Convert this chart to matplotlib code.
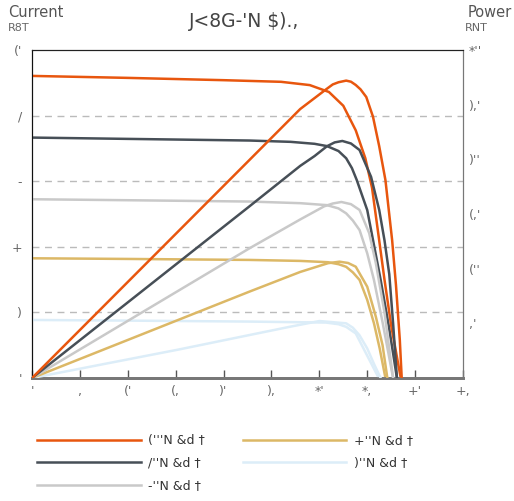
import matplotlib
matplotlib.use("Agg")
import matplotlib.pyplot as plt

# labels exactly as they appear in the reference
title_text = "J<8G-'N $).,"
x_ticks = [0, 5, 10, 15, 20, 25, 30, 35, 40, 45]
x_tick_labels = ["'", ",", "('", "(,", ")'", "),", "*'", "*,", "+'", "+,"]
left_ticks = [0, 2, 4, 6, 8, 10]
left_tick_labels = ["'", ")", "+", "-", "/", "('"]
right_ticks = [0, 50, 100, 150, 200, 250, 300]
right_tick_labels = ["", ",'", "(''", "(,'", ")''", "),'", "*''"]
series_labels = ["('''N &d †", "/''N &d †", "-''N &d †", "+''N &d †", ")''N &d †"]
series_colors = ["#e8560e", "#474f57", "#c9c9c9", "#dcb866", "#dcedf8"]

# current curves (voltage, current)
v_i_1000 = [0, 10, 20, 26, 29, 31, 32.5, 33.8, 34.8, 35.5, 36.2, 36.8, 37.5, 38.0, 38.5]
i_1000 = [9.21, 9.15, 9.08, 9.03, 8.93, 8.72, 8.3, 7.55, 6.7, 5.8, 4.3, 3.0, 1.6, 0.8, 0]
v_i_800 = [0, 10, 22.7, 27, 29.5, 30.8, 32.0, 32.8, 33.4, 33.9, 35.0, 35.6, 36.4, 37.3, 38.1]
i_800 = [7.33, 7.29, 7.24, 7.2, 7.14, 7.07, 6.92, 6.70, 6.4, 6.04, 5.12, 4.21, 2.99, 1.5, 0]
v_i_600 = [0, 10, 22.7, 28, 30.8, 32.0, 32.8, 33.5, 34.2, 35.0, 35.7, 36.6, 37.7]
i_600 = [5.45, 5.42, 5.38, 5.33, 5.27, 5.17, 5.02, 4.8, 4.51, 3.80, 2.99, 1.7, 0]
v_i_400 = [0, 10, 22.7, 28, 30.9, 32.0, 32.8, 33.5, 34.2, 35.0, 35.7, 36.3, 36.9]
i_400 = [3.65, 3.63, 3.60, 3.57, 3.53, 3.47, 3.39, 3.22, 2.99, 2.38, 1.67, 0.9, 0]
v_i_200 = [0, 10, 22.7, 28, 30.7, 32.0, 32.8, 33.8, 34.7, 35.6, 36.2]
i_200 = [1.77, 1.75, 1.72, 1.70, 1.69, 1.64, 1.56, 1.36, 0.85, 0.34, 0]

# power curves (voltage, power)
v_p_1000 = [0, 22.7, 28, 29.5, 30.7, 31.4, 32.0, 32.8, 33.3, 33.8, 34.3, 34.9, 35.6,
            36.25, 36.9, 37.6, 38.0, 38.4, 38.6]
p_1000 = [0, 199.4, 246, 256, 264, 268.5, 270.5, 272, 271, 268, 264, 257, 239,
          212, 181, 126, 85, 35, 0]
v_p_800 = [0, 22.7, 28, 29.5, 30.8, 31.6, 32.4, 33.3, 34.2, 35.4, 36.25, 36.8, 37.3, 37.7, 38.1]
p_800 = [0, 157, 194, 203, 212, 215.5, 216.8, 214.5, 208.5, 184, 153.7, 126, 95, 50, 0]
v_p_600 = [0, 22.7, 28, 30.5, 31.4, 32.3, 33.3, 34.2, 35.2, 35.9, 36.8, 37.7]
p_600 = [0, 118.6, 145, 157, 159.6, 161, 159, 153.7, 132.6, 105, 60, 0]
v_p_400 = [0, 22.7, 28, 30.9, 32.1, 33.0, 33.8, 35.0, 35.9, 36.6, 37.1]
p_400 = [0, 79, 97, 105, 106.4, 105.2, 101.8, 83.5, 56, 30, 0]
v_p_200 = [0, 15.4, 22.7, 27, 30.0, 32.8, 33.5, 34.2, 35.0, 35.7, 36.4]
p_200 = [0, 26.2, 39.3, 47, 52.1, 50, 46, 39, 27, 13, 0]

current_series = [(v_i_1000, i_1000), (v_i_800, i_800), (v_i_600, i_600),
                  (v_i_400, i_400), (v_i_200, i_200)]
power_series = [(v_p_1000, p_1000), (v_p_800, p_800), (v_p_600, p_600),
                (v_p_400, p_400), (v_p_200, p_200)]

fig = plt.figure(figsize=(5.14, 5.01), dpi=100)
ax = fig.add_axes([0.0623, 0.2455, 0.8385, 0.6547])
ax2 = ax.twinx()

ax.set_xlim(0, 45)
ax.set_ylim(0, 10)
ax2.set_ylim(0, 300)

for k, ((vi, ii), (vp, pp)) in enumerate(zip(current_series, power_series)):
    z = 10 - k
    ax.plot(vi, ii, color=series_colors[k], linewidth=1.8, zorder=z,
            label=series_labels[k], solid_joinstyle="round")
    ax2.plot(vp, pp, color=series_colors[k], linewidth=1.8, zorder=z,
             solid_joinstyle="round")

# grid lines at left ticks
for y in left_ticks[1:-1]:
    ax.axhline(y, color="#bbbbbb", linewidth=1, linestyle=(0, (5, 4)), zorder=0)

ax.set_xticks(x_ticks)
ax.set_xticklabels(x_tick_labels)
ax.set_yticks(left_ticks)
ax.set_yticklabels(left_tick_labels)
ax2.set_yticks(right_ticks)
ax2.set_yticklabels(right_tick_labels)

ax.tick_params(axis="x", direction="in", length=6, width=1, color="#555555",
               labelcolor="#666666", labelsize=9, pad=5)
ax.tick_params(axis="y", length=0, labelcolor="#666666", labelsize=9, pad=7)
ax2.tick_params(axis="y", length=0, labelcolor="#666666", labelsize=9, pad=4)

for a in (ax, ax2):
    a.spines["left"].set_color("#111111")
    a.spines["top"].set_color("#222222")
    a.spines["right"].set_color("#777777")
    a.spines["bottom"].set_color("#777777")
    a.spines["bottom"].set_linewidth(2)

fig.text(0.475, 0.958, title_text, ha="center", va="center", fontsize=13.5, color="#444444")
fig.text(0.016, 0.976, "Current", ha="left", va="center", fontsize=10.5, color="#555555")
fig.text(0.016, 0.944, "R8T", ha="left", va="center", fontsize=8, color="#666666")
fig.text(0.996, 0.976, "Power", ha="right", va="center", fontsize=10.5, color="#555555")
fig.text(0.905, 0.944, "RNT", ha="left", va="center", fontsize=8, color="#666666")

handles, labels = ax.get_legend_handles_labels()
fig.legend(handles, labels, ncol=2, loc="upper left", bbox_to_anchor=(0.072, 0.133),
           frameon=False, handlelength=8.3, fontsize=9, labelcolor="#333333",
           columnspacing=3.0, handletextpad=0.6, labelspacing=0.75,
           borderaxespad=0, borderpad=0)

fig.savefig("out.png", dpi=100)
